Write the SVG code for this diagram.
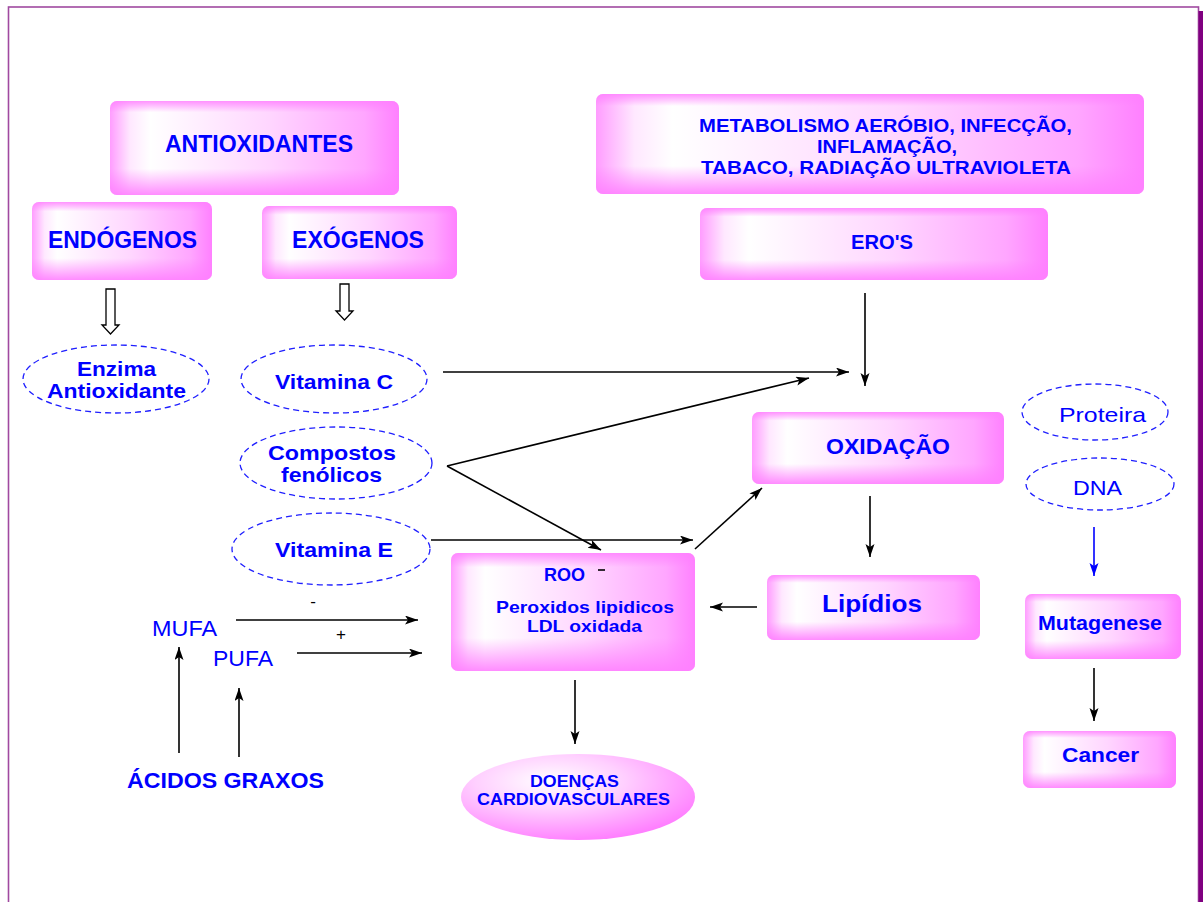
<svg xmlns="http://www.w3.org/2000/svg" width="1203" height="902" viewBox="0 0 1203 902">
<style>
.box{fill:url(#hg)}
.ov{fill:url(#vg)}
.t{font-family:"Liberation Sans",Arial,sans-serif;fill:#0000ff;text-anchor:middle}
.b{font-weight:bold}
.dash{fill:none;stroke:#1f1fff;stroke-width:1.3;stroke-dasharray:6 4}
.ln{fill:none;stroke:#000;stroke-width:1.6}
.blk{fill:#fff;stroke:#000;stroke-width:1.3}
.lbl{font-family:"Liberation Sans",Arial,sans-serif;fill:#000;text-anchor:middle;font-size:17px}
</style>
<defs>
<linearGradient id="hg" x1="0" y1="0" x2="1" y2="0">
<stop offset="0" stop-color="#ff9cff"/>
<stop offset="0.07" stop-color="#ffe8ff"/>
<stop offset="0.14" stop-color="#ffffff"/>
<stop offset="0.55" stop-color="#ffd6ff"/>
<stop offset="0.88" stop-color="#ffa6ff"/>
<stop offset="1" stop-color="#ff80ff"/>
</linearGradient>
<linearGradient id="vg" x1="0" y1="0" x2="0" y2="1">
<stop offset="0" stop-color="#ff80ff" stop-opacity="0.85"/>
<stop offset="0.12" stop-color="#ff80ff" stop-opacity="0"/>
<stop offset="0.72" stop-color="#ff80ff" stop-opacity="0"/>
<stop offset="1" stop-color="#ff80ff" stop-opacity="0.9"/>
</linearGradient>
<radialGradient id="rg" cx="0.38" cy="0.32" r="0.7">
<stop offset="0" stop-color="#ffffff"/>
<stop offset="0.45" stop-color="#ffd0ff"/>
<stop offset="1" stop-color="#ff80ff"/>
</radialGradient>
<marker id="ah" markerUnits="userSpaceOnUse" markerWidth="14" markerHeight="10" refX="13" refY="4.5" orient="auto">
<path d="M0,0 L13,4.5 L0,9 L3,4.5 z" fill="#000"/>
</marker>
<marker id="ahb" markerUnits="userSpaceOnUse" markerWidth="14" markerHeight="10" refX="13" refY="4.5" orient="auto">
<path d="M0,0 L13,4.5 L0,9 L3,4.5 z" fill="#0000ff"/>
</marker>
</defs>

<rect x="0" y="0" width="1203" height="902" fill="#fff"/>
<g id="frame">
<rect x="8.5" y="7" width="1190" height="900" fill="none" stroke="#a04aa0" stroke-width="1.6"/>
<rect x="1198.5" y="11" width="4.5" height="891" fill="#800080"/>
</g>

<g id="antioxidantes">
<rect class="box" x="110" y="101" width="289" height="94" rx="7"/>
<rect class="ov" x="110" y="101" width="289" height="94" rx="7"/>
<text class="t b" x="259" y="152" font-size="23" textLength="188" lengthAdjust="spacingAndGlyphs">ANTIOXIDANTES</text>
</g>
<g id="endogenos">
<rect class="box" x="32" y="202" width="180" height="78" rx="7"/>
<rect class="ov" x="32" y="202" width="180" height="78" rx="7"/>
<text class="t b" x="122.5" y="248" font-size="23" textLength="149" lengthAdjust="spacingAndGlyphs">ENDÓGENOS</text>
</g>
<g id="exogenos">
<rect class="box" x="262" y="206" width="195" height="73" rx="7"/>
<rect class="ov" x="262" y="206" width="195" height="73" rx="7"/>
<text class="t b" x="358" y="248" font-size="23" textLength="132" lengthAdjust="spacingAndGlyphs">EXÓGENOS</text>
</g>
<g id="metabolismo">
<rect class="box" x="596" y="94" width="548" height="100" rx="7"/>
<rect class="ov" x="596" y="94" width="548" height="100" rx="7"/>
<text class="t b" font-size="18" x="885.5" y="132" textLength="373" lengthAdjust="spacingAndGlyphs">METABOLISMO AERÓBIO, INFECÇÃO,</text>
<text class="t b" font-size="18" x="887" y="153" textLength="140" lengthAdjust="spacingAndGlyphs">INFLAMAÇÃO,</text>
<text class="t b" font-size="18" x="886" y="174" textLength="370" lengthAdjust="spacingAndGlyphs">TABACO, RADIAÇÃO ULTRAVIOLETA</text>
</g>
<g id="eros">
<rect class="box" x="700" y="208" width="348" height="72" rx="7"/>
<rect class="ov" x="700" y="208" width="348" height="72" rx="7"/>
<text class="t b" x="882" y="249" font-size="21" textLength="62" lengthAdjust="spacingAndGlyphs">ERO'S</text>
</g>
<g id="enzima">
<ellipse class="dash" cx="116" cy="379" rx="93" ry="34"/>
<text class="t b" x="116.5" y="376" font-size="21" textLength="79" lengthAdjust="spacingAndGlyphs">Enzima</text>
<text class="t b" x="116.5" y="398" font-size="21" textLength="139" lengthAdjust="spacingAndGlyphs">Antioxidante</text>
</g>
<g id="vitaminaC">
<ellipse class="dash" cx="334" cy="379" rx="93" ry="34"/>
<text class="t b" x="334" y="389" font-size="21" textLength="118" lengthAdjust="spacingAndGlyphs">Vitamina C</text>
</g>
<g id="compostos">
<ellipse class="dash" cx="336" cy="463" rx="96" ry="36"/>
<text class="t b" x="332" y="460" font-size="21" textLength="128" lengthAdjust="spacingAndGlyphs">Compostos</text>
<text class="t b" x="331.5" y="482" font-size="21" textLength="101" lengthAdjust="spacingAndGlyphs">fenólicos</text>
</g>
<g id="vitaminaE">
<ellipse class="dash" cx="331" cy="549" rx="99" ry="36"/>
<text class="t b" x="334" y="557" font-size="21" textLength="118" lengthAdjust="spacingAndGlyphs">Vitamina E</text>
</g>
<g id="oxidacao">
<rect class="box" x="752" y="412" width="252" height="72" rx="7"/>
<rect class="ov" x="752" y="412" width="252" height="72" rx="7"/>
<text class="t b" x="888" y="454" font-size="22" textLength="124" lengthAdjust="spacingAndGlyphs">OXIDAÇÃO</text>
</g>
<g id="roo">
<rect class="box" x="451" y="553" width="244" height="118" rx="7"/>
<rect class="ov" x="451" y="553" width="244" height="118" rx="7"/>
<text class="t b" x="564.5" y="581" font-size="18" textLength="41" lengthAdjust="spacingAndGlyphs">ROO</text>
<line x1="598" y1="570" x2="605" y2="570" stroke="#000" stroke-width="1.6"/>
<text class="t b" x="585" y="613" font-size="17" textLength="178" lengthAdjust="spacingAndGlyphs">Peroxidos lipidicos</text>
<text class="t b" x="584.5" y="632" font-size="17" textLength="115" lengthAdjust="spacingAndGlyphs">LDL oxidada</text>
</g>
<g id="lipidios">
<rect class="box" x="767" y="575" width="213" height="65" rx="7"/>
<rect class="ov" x="767" y="575" width="213" height="65" rx="7"/>
<text class="t b" x="872" y="612" font-size="24" textLength="100" lengthAdjust="spacingAndGlyphs">Lipídios</text>
</g>
<g id="proteira">
<ellipse class="dash" cx="1095" cy="412" rx="73" ry="28"/>
<text class="t" x="1102.5" y="422" font-size="21" textLength="87" lengthAdjust="spacingAndGlyphs">Proteira</text>
</g>
<g id="dna">
<ellipse class="dash" cx="1100" cy="484" rx="74" ry="26"/>
<text class="t" x="1097.5" y="495" font-size="21" textLength="49" lengthAdjust="spacingAndGlyphs">DNA</text>
</g>
<g id="mutagenese">
<rect class="box" x="1025" y="594" width="156" height="65" rx="7"/>
<rect class="ov" x="1025" y="594" width="156" height="65" rx="7"/>
<text class="t b" x="1100" y="630" font-size="20" textLength="124" lengthAdjust="spacingAndGlyphs">Mutagenese</text>
</g>
<g id="cancer">
<rect class="box" x="1023" y="731" width="153" height="57" rx="7"/>
<rect class="ov" x="1023" y="731" width="153" height="57" rx="7"/>
<text class="t b" x="1100.5" y="762" font-size="21" textLength="77" lengthAdjust="spacingAndGlyphs">Cancer</text>
</g>
<g id="doencas">
<ellipse cx="578" cy="797" rx="117" ry="43" fill="url(#rg)"/>
<text class="t b" x="574.5" y="787" font-size="16" textLength="89" lengthAdjust="spacingAndGlyphs">DOENÇAS</text>
<text class="t b" x="573.5" y="805" font-size="16" textLength="193" lengthAdjust="spacingAndGlyphs">CARDIOVASCULARES</text>
</g>
<g id="mufa">
<text class="t" x="184.5" y="636" font-size="22" textLength="65" lengthAdjust="spacingAndGlyphs">MUFA</text>
</g>
<g id="pufa">
<text class="t" x="243" y="666" font-size="22" textLength="60" lengthAdjust="spacingAndGlyphs">PUFA</text>
</g>
<g id="acidos">
<text class="t b" x="225.5" y="788" font-size="22" textLength="197" lengthAdjust="spacingAndGlyphs">ÁCIDOS GRAXOS</text>
</g>

<g id="connectors">
<path class="blk" d="M106,289 H115 V325 H119 L110.5,334 L102,325 H106 Z"/>
<path class="blk" d="M340,284 H349 V311 H353 L344.5,320 L336,311 H340 Z"/>
<line class="ln" x1="865" y1="293" x2="865" y2="386" marker-end="url(#ah)"/>
<line class="ln" x1="443" y1="372" x2="849" y2="372" marker-end="url(#ah)"/>
<line class="ln" x1="447" y1="466" x2="809" y2="378" marker-end="url(#ah)"/>
<line class="ln" x1="447" y1="466" x2="601" y2="550" marker-end="url(#ah)"/>
<line class="ln" x1="431" y1="540" x2="693" y2="540" marker-end="url(#ah)"/>
<line class="ln" x1="695" y1="549" x2="762" y2="488" marker-end="url(#ah)"/>
<line class="ln" x1="870" y1="496" x2="870" y2="557" marker-end="url(#ah)"/>
<line class="ln" x1="757" y1="607" x2="710" y2="607" marker-end="url(#ah)"/>
<line class="ln" x1="236" y1="620" x2="418" y2="620" marker-end="url(#ah)"/>
<line class="ln" x1="297" y1="653" x2="422" y2="653" marker-end="url(#ah)"/>
<line class="ln" x1="179" y1="753" x2="179" y2="647" marker-end="url(#ah)"/>
<line class="ln" x1="239" y1="757" x2="239" y2="688" marker-end="url(#ah)"/>
<line class="ln" x1="575" y1="680" x2="575" y2="744" marker-end="url(#ah)"/>
<line x1="1094" y1="527" x2="1094" y2="576" stroke="#0000ff" stroke-width="1.6" marker-end="url(#ahb)"/>
<line class="ln" x1="1094" y1="668" x2="1094" y2="721" marker-end="url(#ah)"/>
<text class="lbl" x="313" y="607">-</text>
<text class="lbl" x="341" y="640">+</text>
</g>
</svg>
